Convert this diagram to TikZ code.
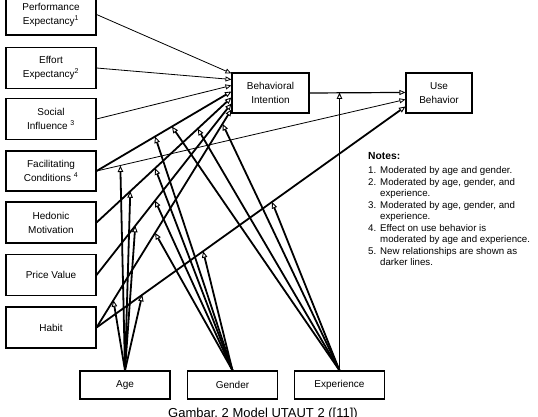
\documentclass[tikz,border=0pt]{standalone}
\usepackage{fontspec}
\setmainfont{Liberation Sans}
\usetikzlibrary{arrows.meta,calc}
\begin{document}
\begin{tikzpicture}[x=1pt,y=-1pt,
  box/.style={draw, line width=1.1pt, minimum width=90pt, minimum height=41pt, inner sep=0pt, align=center, font=\fontsize{10}{14}\selectfont},
  modbox/.style={box, minimum height=28pt},
  thinarr/.style={line width=0.8pt, -{Triangle[open,length=6pt,width=5pt,line width=0.8pt]}},
  medarr/.style={line width=1.2pt, -{Triangle[open,length=6pt,width=5pt,line width=0.8pt]}},
  thickarr/.style={line width=1.8pt, -{Triangle[open,length=6.5pt,width=5.5pt,line width=0.9pt]}},
  notetext/.style={font=\fontsize{9.7}{11.5}\selectfont, align=left, inner sep=0pt}
]
\fill[white] (0,0) rectangle (538,416);
\useasboundingbox (0,0) rectangle (538,416);

% left boxes
\node[box] (PE) at (51,14.5) {Performance\\Expectancy\textsuperscript{1}};
\node[box] (EE) at (51,68) {Effort\\Expectancy\textsuperscript{2}};
\node[box] (SI) at (51,119) {Social\\Influence \textsuperscript{3}};
\node[box, minimum height=40pt] (FC) at (51,171) {Facilitating\\Conditions \textsuperscript{4}};
\node[box] (HM) at (51,222.5) {Hedonic\\Motivation};
\node[box] (PV) at (51,275) {Price Value};
\node[box] (HA) at (51,327.5) {Habit};

% moderators
\node[modbox] (Age) at (125,385) {Age};
\node[modbox] (Gen) at (232.5,385) {Gender};
\node[modbox] (Exp) at (339.5,385) {Experience};

% outcome boxes
\node[box, minimum width=77pt, minimum height=40pt] (BI) at (270.5,93) {Behavioral\\Intention};
\node[box, minimum width=66pt, minimum height=40pt] (UB) at (439,93) {Use\\Behavior};

% arrow end points on BI and UB
\coordinate (bPE) at ($(BI.north west)+(0,1)$);
\coordinate (bEE) at ($(BI.north west)+(0,7)$);
\coordinate (bSI) at ($(BI.north west)+(0,13)$);
\coordinate (bFC) at ($(BI.north west)+(0,19)$);
\coordinate (bHM) at ($(BI.north west)+(0,25)$);
\coordinate (bPV) at ($(BI.north west)+(0,31)$);
\coordinate (bHA) at ($(BI.north west)+(0,37)$);
\coordinate (uBI) at ($(UB.north west)+(0,20)$);
\coordinate (uFC) at ($(UB.north west)+(0,27)$);
\coordinate (uHA) at ($(UB.north west)+(0,34)$);

% main paths
\draw[thinarr] (PE.east) -- (bPE);
\draw[thinarr] (EE.east) -- (bEE);
\draw[thinarr] (SI.east) -- (bSI);
\draw[thickarr] (FC.east) -- (bFC);
\draw[thickarr] (HM.east) -- (bHM);
\draw[thickarr] (PV.east) -- (bPV);
\draw[thickarr] (HA.east) -- (bHA);
\draw[thinarr] (FC.east) -- (uFC);
\draw[thickarr] (HA.east) -- (uHA);
\draw[medarr] (BI.east) -- (uBI);

% moderator tips
\coordinate (aFCUB) at ($(FC.east)!0.077!(uFC)$);
\coordinate (aHM) at ($(HM.east)!0.25!(bHM)$);
\coordinate (aPV) at ($(PV.east)!0.287!(bPV)$);
\coordinate (aHA) at ($(HA.east)!0.125!(bHA)$);
\coordinate (aHAUB) at ($(HA.east)!0.148!(uHA)$);

\coordinate (gFC) at ($(FC.east)!0.434!(bFC)$);
\coordinate (gHM) at ($(HM.east)!0.434!(bHM)$);
\coordinate (gPV) at ($(PV.east)!0.434!(bPV)$);
\coordinate (gHA) at ($(HA.east)!0.434!(bHA)$);
\coordinate (gHAUB) at ($(HA.east)!0.345!(uHA)$);

\coordinate (eFC) at ($(FC.east)!0.559!(bFC)$);
\coordinate (eHM) at ($(HM.east)!0.75!(bHM)$);
\coordinate (eHA) at ($(HA.east)!0.934!(bHA)$);
\coordinate (eHAUB) at ($(HA.east)!0.568!(uHA)$);
\coordinate (eBIUB) at (Exp.north |- uBI);

\foreach \t in {aFCUB,aHM,aPV,aHA,aHAUB} \draw[thickarr] (Age.north) -- (\t);
\foreach \t in {gFC,gHM,gPV,gHA,gHAUB} \draw[thickarr] (Gen.north) -- (\t);
\foreach \t in {eFC,eHM,eHA,eHAUB,eBIUB} \draw[thickarr] (Exp.north) -- (\t);

% notes
\node[notetext, anchor=north west] (notes) at (368,152.5) {%
{\bfseries\fontsize{10.3}{12}\selectfont Notes:}\\[2.5pt]
\makebox[12pt][l]{1.}Moderated by age and gender.\\
\makebox[12pt][l]{2.}Moderated by age, gender, and\\
\hspace*{12pt}experience.\\
\makebox[12pt][l]{3.}Moderated by age, gender, and\\
\hspace*{12pt}experience.\\
\makebox[12pt][l]{4.}Effect on use behavior is\\
\hspace*{12pt}moderated by age and experience.\\
\makebox[12pt][l]{5.}New relationships are shown as\\
\hspace*{12pt}darker lines.};

% caption
\node[anchor=base, font=\fontsize{13}{15}\selectfont, inner sep=0pt] (cap) at (263,417.5) {Gambar.\ 2 Model UTAUT 2 ([11])};
\end{tikzpicture}
\end{document}
